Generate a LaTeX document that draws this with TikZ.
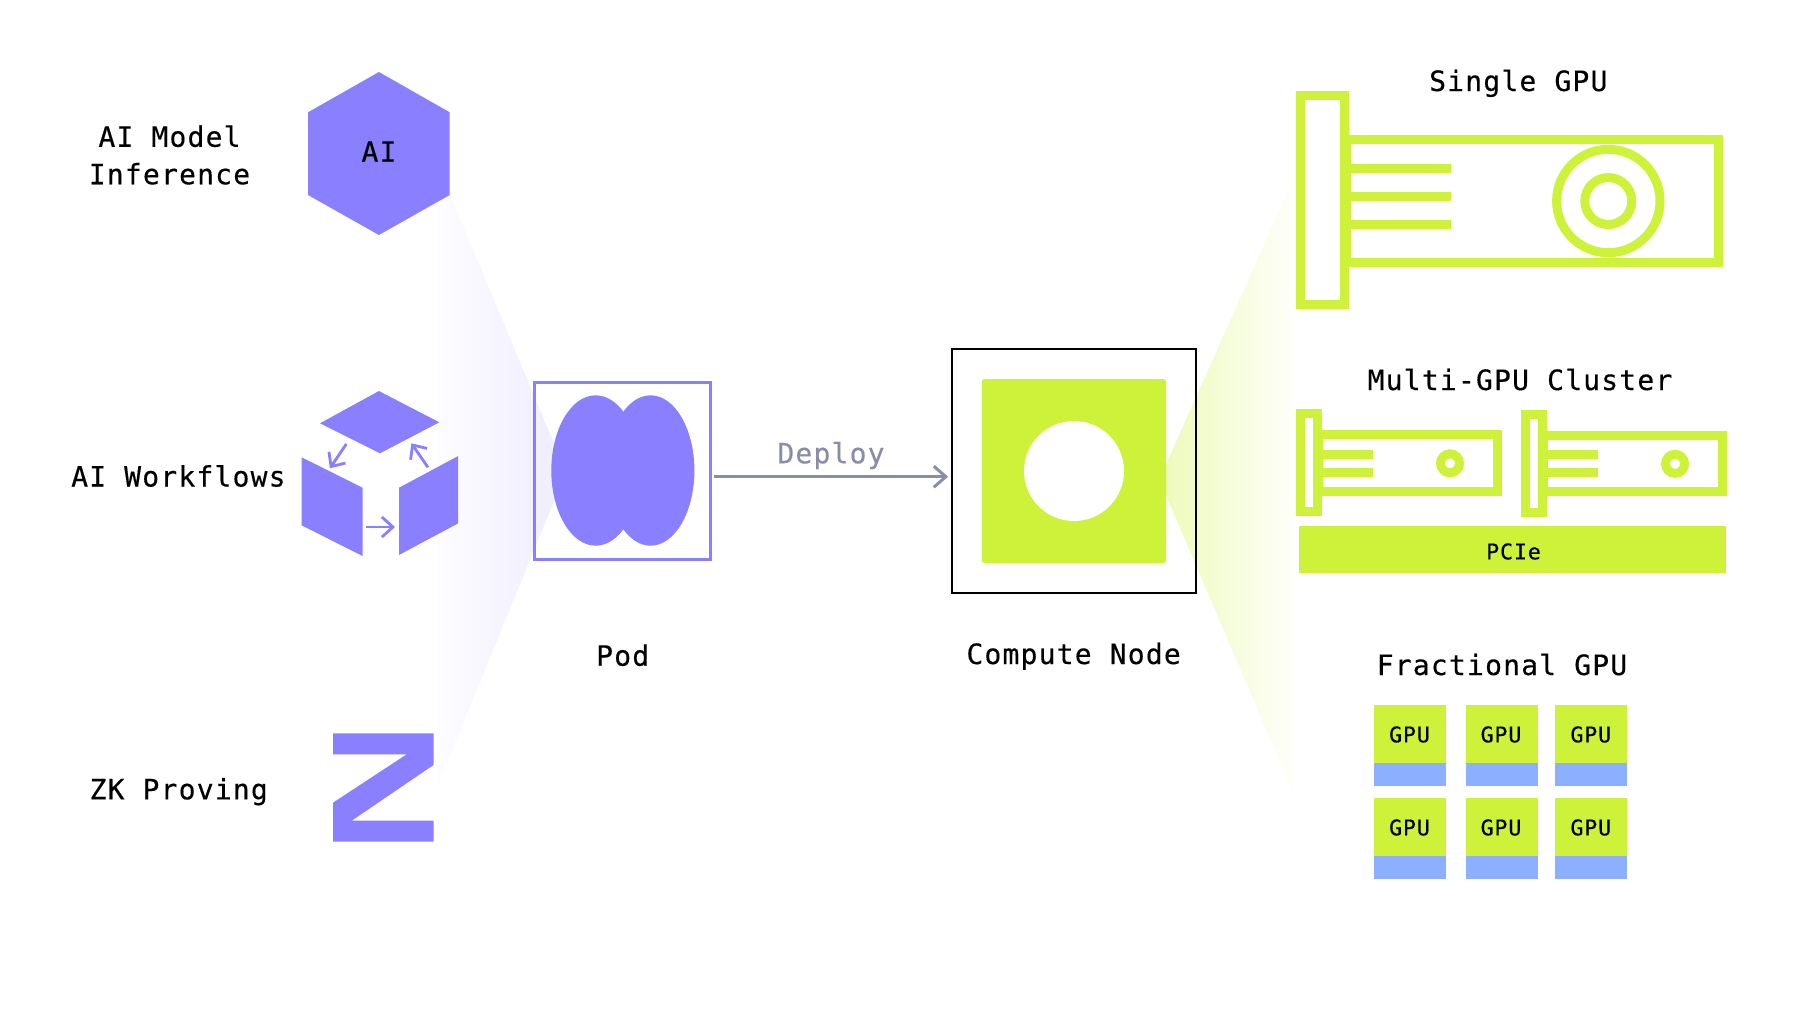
\documentclass[tikz,border=0pt]{standalone}
\usepackage{fontspec}
\usetikzlibrary{arrows.meta}
\newfontfamily\lblfont{DejaVu Sans Mono}[LetterSpace=4.3,FakeBold=0.35]
\definecolor{podpurple}{HTML}{897FFF}
\definecolor{gpugreen}{HTML}{CEF23A}
\definecolor{gpublue}{HTML}{8DAFFF}
\definecolor{deploygrey}{HTML}{8A8DA8}
\definecolor{purpletint}{HTML}{EEECFF}
\definecolor{purplefaint}{HTML}{FDFDFF}
\definecolor{greentint}{HTML}{EDFAB8}
\definecolor{greenfaint}{HTML}{FEFFFA}
\tikzset{
  lbl/.style={font=\lblfont\fontsize{14}{18.75}\selectfont, text=black, anchor=base, inner sep=0pt, align=center},
  smalllbl/.style={font=\lblfont\fontsize{10.75}{13}\selectfont, text=black, anchor=base, inner sep=0pt},
  card/.style={draw=gpugreen, line width=4.5pt, fill=none, line join=miter},
  smallarrow/.style={draw=podpurple, line width=1.4pt, -{Straight Barb[length=5.5pt,width=10pt]}},
  deployarrow/.style={draw=deploygrey, line width=1.5pt, -{Straight Barb[length=6pt,width=10.5pt]}, shorten <=0.75pt, shorten >=1.5pt},
  podbox/.style={draw=podpurple, line width=1.5pt, minimum width=88.4pt, minimum height=88.4pt, inner sep=0pt},
  nodebox/.style={draw=black, line width=0.75pt, minimum width=122.15pt, minimum height=121.9pt, inner sep=0pt},
}
\begin{document}
\begin{tikzpicture}[x=0.5pt,y=-0.5pt]
\path[use as bounding box, fill=white] (0,0) rectangle (1800,1013);

% fading beams
\begin{scope}
  \clip (566,472) -- (450,195) -- (437,165) -- (437,790) -- (441,777) -- cycle;
  \shade[left color=purplefaint, right color=purpletint] (437,100) rectangle (566,850);
\end{scope}
\begin{scope}
  \clip (1159.3,479.5) -- (1293,180) -- (1293,792) -- cycle;
  \shade[left color=greentint, right color=greenfaint] (1159.3,150) rectangle (1293,850);
\end{scope}

% left column
\fill[podpurple] (378.9,72) -- (449.7,112.3) -- (449.7,195) -- (378.9,235) -- (308,195) -- (308,112.3) -- cycle;
\node[lbl] (aiglyph) at (379,161.7) {AI};
\node[lbl, anchor=center] (inference) at (169.5,155) {AI Model\\Inference};

\fill[podpurple] (378.9,391) -- (439.3,422.3) -- (380,453.3) -- (320,423.3) -- cycle;
\fill[podpurple] (301.6,457.3) -- (362.5,487.7) -- (362.5,556) -- (301.6,525.3) -- cycle;
\fill[podpurple] (399,487.7) -- (458.2,456) -- (458.2,523.3) -- (399,555) -- cycle;
\coordinate (wfA) at (346.3,444); \coordinate (wfB) at (329.9,468.3);
\coordinate (wfC) at (366.2,527); \coordinate (wfD) at (395,527);
\coordinate (wfE) at (427.9,467.3); \coordinate (wfF) at (411.4,443.3);
\draw[smallarrow] (wfA) -- (wfB);
\draw[smallarrow] (wfC) -- (wfD);
\draw[smallarrow] (wfE) -- (wfF);
\node[lbl] (workflows) at (178.4,486.5) {AI Workflows};

\fill[podpurple] (333,733.3) -- (433.5,733.3) -- (433.5,765) -- (351.7,820.7) -- (433.5,820.7) -- (433.5,841.7) -- (333,841.7) -- (333,802.7) -- (406.7,754.3) -- (333,754.3) -- cycle;
\node[lbl] (zk) at (178.7,799.3) {ZK Proving};

% pod
\node[podbox] (pod) at (622.5,470.9) {};
\fill[podpurple] (595.7,470.5) ellipse [x radius=44.4, y radius=75.2];
\fill[podpurple] (650.6,470.5) ellipse [x radius=43.8, y radius=75.2];
\node[lbl] (podlabel) at (622.7,665.7) {Pod};

% compute node
\node[nodebox] (compute) at (1074,470.9) {};
\fill[gpugreen, rounded corners=1.2pt] (982,379) rectangle (1166,563);
\fill[white] (1074,471) circle [radius=50];
\node[lbl] (computelabel) at (1073.6,664) {Compute Node};

% deploy
\coordinate (deployline) at (830,476.7);
\draw[deployarrow] (pod.east |- deployline) -- (compute.west |- deployline);
\node[lbl, text=deploygrey] (deploy) at (831,463.3) {Deploy};

% single GPU
\node[lbl] (singlelabel) at (1518.3,91) {Single GPU};
\draw[card] (1300.5,95.5) rectangle (1344.5,304.5);
\draw[card] (1346.5,139.5) rectangle (1718.5,262.8);
\foreach \yy in {168.3,196.3,224.3} \draw[card] (1351,\yy) -- (1451,\yy);
\draw[card] (1608.3,201) circle [radius=51.7];
\draw[card] (1608.3,201) circle [radius=23.5];

% multi GPU
\node[lbl] (multilabel) at (1520,390) {Multi-GPU Cluster};
\foreach \dx/\dy in {0/0,225/0.5} {
  \begin{scope}[shift={(\dx,\dy)}]
    \draw[card] (1300.5,413.5) rectangle (1317.5,511.8);
    \draw[card] (1318.5,434.5) rectangle (1497.2,491.2);
    \foreach \yy in {454.3,472.3} \draw[card] (1323,\yy) -- (1373.3,\yy);
    \draw[card] (1450,463.3) circle [radius=9.5];
  \end{scope}
}
\fill[gpugreen] (1299,526.3) rectangle (1726.3,572.7);
\node[smalllbl] (pcie) at (1513.5,559.3) {PCIe};

% fractional GPU
\node[lbl] (fraclabel) at (1502,675) {Fractional GPU};
\foreach \cx/\col in {1374/a,1465.5/b,1555.3/c} {
  \foreach \ry/\row in {705/p,798/q} {
    \fill[gpugreen] (\cx,\ry) rectangle ++(72,58);
    \fill[gpublue] (\cx,\ry+58) rectangle ++(72,22.8);
    \node[smalllbl] (gpu\col\row) at (\cx+35.5,\ry+37.3) {GPU};
  }
}
\end{tikzpicture}
\end{document}
